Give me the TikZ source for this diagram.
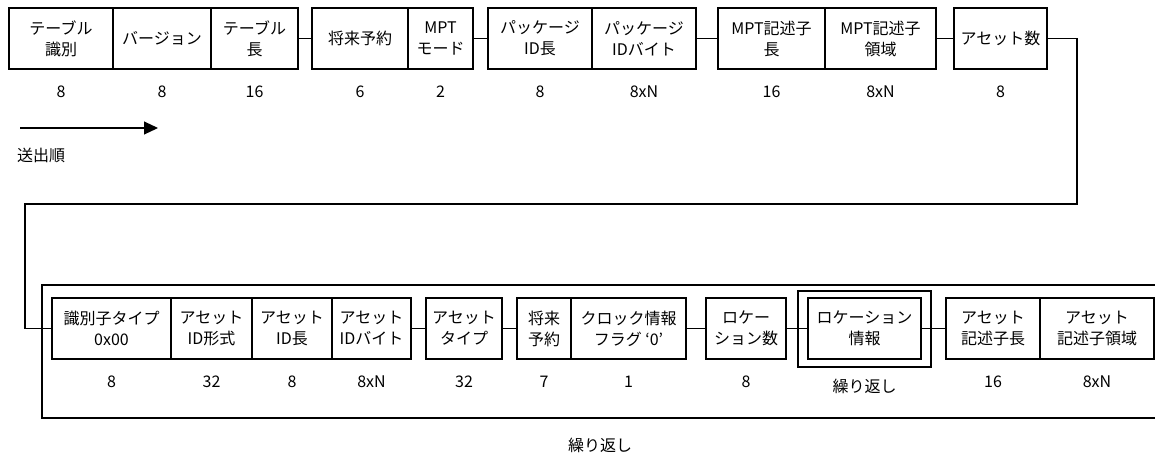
\documentclass[tikz,border=0pt]{standalone}
\usepackage{fontspec}
\setmainfont{Noto Sans CJK JP}
\usetikzlibrary{arrows.meta}
\tikzset{
  fld/.style={draw, line width=1.1pt, inner sep=0pt, minimum height=61pt, align=center,
    font=\fontsize{16}{21}\selectfont},
  num/.style={inner sep=0pt, font=\fontsize{16}{18}\selectfont},
  lab/.style={inner sep=0pt, font=\fontsize{16}{18}\selectfont},
  conn/.style={line width=1.1pt},
  frame/.style={draw, line width=1.1pt},
}
\begin{document}
\begin{tikzpicture}[x=1pt,y=-1pt]
\useasboundingbox (0,0) rectangle (1155,456);
% ---- top row ----
\node[fld, minimum width=104pt] (tid)  at (61,38.5)    {テーブル\\識別};
\node[fld, minimum width=98pt]  (ver)  at (162,38.5)   {バージョン};
\node[fld, minimum width=87pt]  (tlen) at (254.5,38.5) {テーブル\\長};
\node[fld, minimum width=96pt]  (rsv)  at (360,38.5)   {将来予約};
\node[fld, minimum width=65pt]  (mode) at (440.5,38.5) {MPT\\モード};
\node[fld, minimum width=104pt] (pidl) at (540,38.5)   {パッケージ\\ID長};
\node[fld, minimum width=104pt] (pidb) at (644,38.5)   {パッケージ\\IDバイト};
\node[fld, minimum width=107pt] (dlen) at (771.5,38.5) {MPT記述子\\長};
\node[fld, minimum width=111pt] (darea) at (880.5,38.5) {MPT記述子\\領域};
\node[fld, minimum width=93pt]  (anum) at (1000.5,38.5) {アセット数};
% numbers
\node[num] (n1) at (61,92) {8};
\node[num] (n2) at (162,92) {8};
\node[num] (n3) at (254.5,92) {16};
\node[num] (n4) at (360,92) {6};
\node[num] (n5) at (440.5,92) {2};
\node[num] (n6) at (540,92) {8};
\node[num] (n7) at (644,92) {8xN};
\node[num] (n8) at (771.5,92) {16};
\node[num] (n9) at (880.5,92) {8xN};
\node[num] (n10) at (1000.5,92) {8};
% send order arrow
\coordinate (as) at (20,128);
\coordinate (ae) at (158,128);
\draw[conn, -{Triangle[length=14pt,width=13pt]}] (as) -- (ae);
\node[lab, anchor=west] (order) at (17,155) {送出順};
% ---- bottom row ----
\draw[frame] (1160,285) -- (42,285) -- (42,418) -- (1160,418);
\node[fld, minimum width=119pt] (itype) at (111.5,328.5) {識別子タイプ\\0x00};
\node[fld, minimum width=81pt]  (aidf)  at (211.5,328.5) {アセット\\ID形式};
\node[fld, minimum width=80pt]  (aidl)  at (292,328.5)   {アセット\\ID長};
\node[fld, minimum width=79pt]  (aidb)  at (371.5,328.5) {アセット\\IDバイト};
\node[fld, minimum width=76pt]  (atype) at (464,328.5)   {アセット\\タイプ};
\node[fld, minimum width=54pt]  (rsv2)  at (544,328.5)   {将来\\予約};
\node[fld, minimum width=115pt] (clk)   at (628.5,328.5) {クロック情報\\フラグ ‘0’};
\node[fld, minimum width=80pt]  (lnum)  at (746,328.5)   {ロケー\\ション数};
\node[draw, line width=1.1pt, minimum width=133pt, minimum height=76pt, inner sep=0pt] (lrep) at (864.5,329) {};
\node[fld, minimum width=113pt] (linfo) at (864.5,328.5) {ロケーション\\情報};
\node[fld, minimum width=94pt]  (adl)   at (993,328.5)   {アセット\\記述子長};
\node[fld, minimum width=114pt] (ada)   at (1097,328.5)  {アセット\\記述子領域};
% numbers
\node[num] (m1) at (111.5,382) {8};
\node[num] (m2) at (211.5,382) {32};
\node[num] (m3) at (292,382) {8};
\node[num] (m4) at (371.5,382) {8xN};
\node[num] (m5) at (464,382) {32};
\node[num] (m6) at (544,382) {7};
\node[num] (m7) at (628.5,382) {1};
\node[num] (m8) at (746,382) {8};
\node[lab] (rep1) at (864.5,386) {繰り返し};
\node[num] (m10) at (993,382) {16};
\node[num] (m11) at (1097,382) {8xN};
\node[lab] (rep2) at (600,445) {繰り返し};
% ---- connectors ----
\draw[conn] (tlen.east) -- (rsv.west);
\draw[conn] (mode.east) -- (pidl.west);
\draw[conn] (pidb.east) -- (dlen.west);
\draw[conn] (darea.east) -- (anum.west);
\coordinate (w1) at (1077,204);
\coordinate (w2) at (25,204);
\draw[conn] (anum.east) -| (w1) -- (w2) |- (itype.west);
\draw[conn] (aidb.east) -- (atype.west);
\draw[conn] (atype.east) -- (rsv2.west);
\draw[conn] (clk.east) -- (lnum.west);
\draw[conn] (lnum.east) -- (linfo.west);
\draw[conn] (linfo.east) -- (adl.west);
\end{tikzpicture}
\end{document}
